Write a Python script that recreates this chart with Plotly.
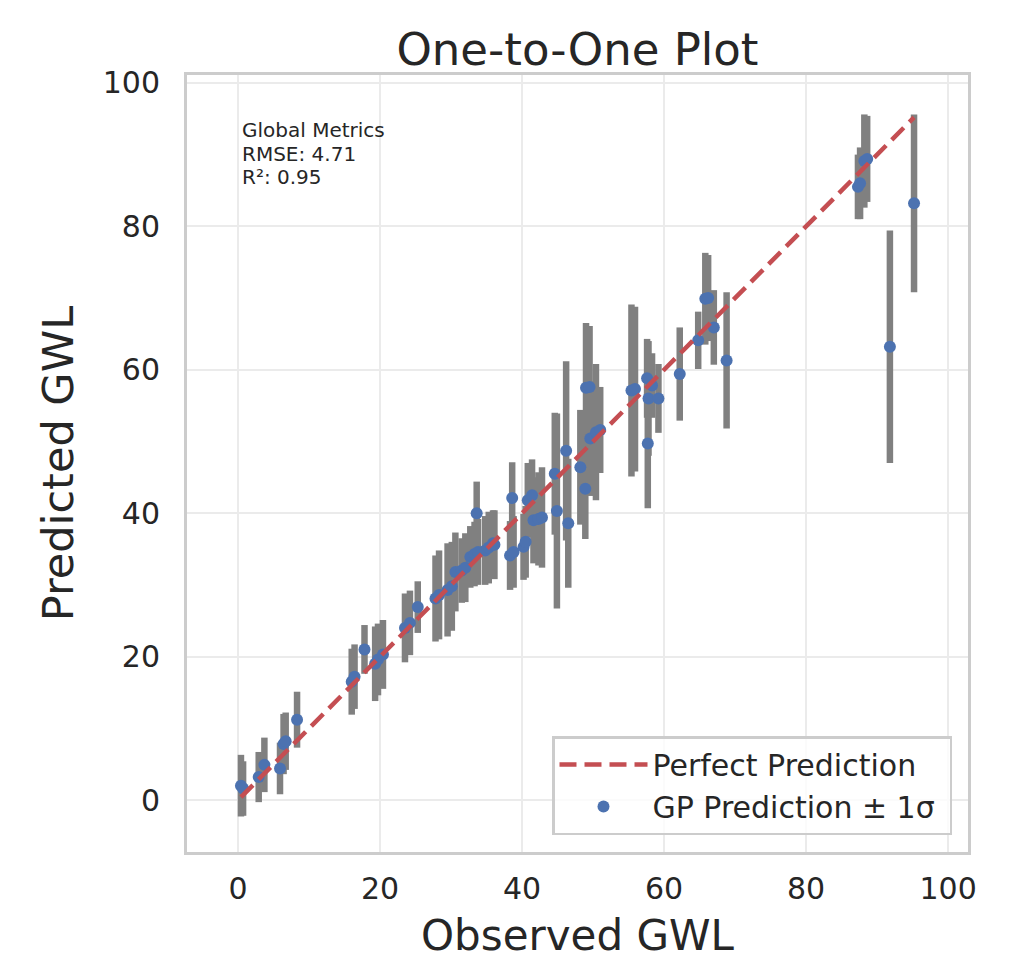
import plotly.graph_objects as go

observed = [0.4, 0.7, 2.9, 3.7, 5.9, 6.4, 6.7, 8.3,
            16.0, 16.4, 17.8, 19.3, 19.7, 20.4,
            23.5, 24.2, 25.3,
            27.8, 28.3, 29.5, 30.1, 30.6, 31.5, 32.0, 32.7, 33.3, 33.6, 33.8, 34.8, 35.3, 35.9, 36.1,
            38.3, 38.6, 38.8, 40.2, 40.5, 40.8, 41.4, 41.6, 42.3, 42.8,
            44.6, 44.9, 46.2, 46.5,
            48.2, 48.9, 49.0, 49.5, 49.6, 50.4, 51.0,
            55.4, 55.9, 57.6, 57.8, 57.7, 58.3, 59.2,
            62.2, 64.8, 65.8, 66.2, 67.0, 68.8,
            87.3, 87.6, 88.2, 88.6, 91.8, 95.2]
predicted = [2.0, 1.6, 3.2, 4.9, 4.4, 7.8, 8.2, 11.2,
             16.5, 17.2, 21.0, 19.0, 19.6, 20.3,
             24.0, 24.7, 26.9,
             28.1, 28.6, 29.3, 29.8, 31.8, 32.0, 32.4, 33.9, 34.3, 40.0, 34.6, 34.8, 35.2, 35.8, 35.6,
             34.1, 42.1, 34.6, 35.3, 36.0, 41.8, 42.5, 39.0, 39.2, 39.4,
             45.5, 40.3, 48.7, 38.6,
             46.4, 43.4, 57.5, 57.6, 50.4, 51.3, 51.6,
             57.1, 57.3, 58.8, 56.0, 49.7, 57.8, 56.0,
             59.4, 64.1, 69.9, 70.0, 65.9, 61.3,
             85.5, 86.0, 89.1, 89.4, 63.2, 83.2]
sigma = [4.3, 3.8, 3.5, 3.8, 3.6, 4.2, 4.0, 3.9,
         4.6, 4.5, 3.4, 5.2, 5.0, 4.8,
         4.8, 4.5, 3.6,
         6.0, 6.2, 6.5, 6.2, 5.5, 4.5, 4.8, 4.3, 4.5, 4.4, 4.6, 4.8, 5.0, 4.6, 4.8,
         4.8, 5.0, 5.0, 4.6, 5.0, 5.2, 5.0, 6.0, 6.5, 7.0,
         8.5, 13.6, 12.5, 9.0,
         8.0, 7.0, 9.0, 8.5, 8.0, 9.5, 6.0,
         12.0, 11.5, 5.5, 8.0, 9.0, 4.5, 4.8,
         6.5, 4.0, 6.4, 6.0, 5.2, 9.5,
         4.5, 5.0, 6.5, 6.0, 16.2, 12.4]

metrics_lines = ["Global Metrics", "RMSE: 4.71", "R²: 0.95"]
x_ticks = [0, 20, 40, 60, 80, 100]
y_ticks = [0, 20, 40, 60, 80, 100]

TXT = "#262626"
FONT = "DejaVu Sans"
NB = "\u00a0"

fig = go.Figure()

fig.add_trace(go.Scatter(
    x=observed, y=predicted, mode="markers",
    name="GP Prediction ± 1σ" + NB,
    marker=dict(color="#4c72b0", size=12, line=dict(width=0)),
    error_y=dict(type="data", array=sigma, visible=True,
                 color="#808080", thickness=6.5, width=0),
))

lo, hi = min(observed), max(observed)
fig.add_trace(go.Scatter(
    x=[lo, hi], y=[lo, hi], mode="lines",
    name="Perfect Prediction",
    line=dict(color="#c44e52", width=4.5, dash="17px,8px"),
))

axis_common = dict(
    showgrid=True, gridcolor="#ebebeb", gridwidth=2,
    showline=True, linecolor="#cccccc", linewidth=3, mirror=True,
    zeroline=False, ticks="", automargin=False,
    tickfont=dict(size=30, color=TXT, family=FONT),
)

# plot area: x 187..968, y 75..852 (px)
def px_to_paper_y(py):
    return (852 - py) / 777.0

annotations = []
for i, line in enumerate(metrics_lines):
    annotations.append(dict(text=line, xref="paper", yref="paper",
                            x=(240 - 187) / 781.0, y=px_to_paper_y(130 + i * 23.5),
                            xanchor="left", yanchor="middle",
                            align="left", showarrow=False,
                            font=dict(size=20, color=TXT, family=FONT)))

fig.update_layout(
    width=1014, height=960,
    margin=dict(l=187, r=46, t=75, b=108, autoexpand=False),
    paper_bgcolor="white", plot_bgcolor="white",
    font=dict(family=FONT, color=TXT),
    title=dict(text="One-to-One Plot", x=0.5695, xanchor="center",
               y=1 - 49 / 960, yanchor="middle", yref="container",
               font=dict(size=45, color=TXT, family=FONT)),
    xaxis=dict(range=[-7.2, 102.8], tickvals=x_ticks,
               title=dict(text="Observed GWL", font=dict(size=42, color=TXT, family=FONT), standoff=16),
               ticklabelstandoff=8, **axis_common),
    yaxis=dict(range=[-7.25, 101.1], tickvals=y_ticks,
               title=dict(text="Predicted GWL", font=dict(size=43, color=TXT, family=FONT), standoff=16),
               ticklabelstandoff=18, **axis_common),
    legend=dict(x=(952 - 187) / 781.0, y=px_to_paper_y(835), xanchor="right", yanchor="bottom",
                bgcolor="rgba(255,255,255,0.8)", bordercolor="#cccccc", borderwidth=2.5,
                font=dict(size=30, color=TXT, family=FONT), traceorder="reversed",
                itemwidth=88),
    showlegend=True,
    annotations=annotations,
)

fig.write_html("out.html", config={"displayModeBar": False},
               post_script="document.body.style.margin='0';")
